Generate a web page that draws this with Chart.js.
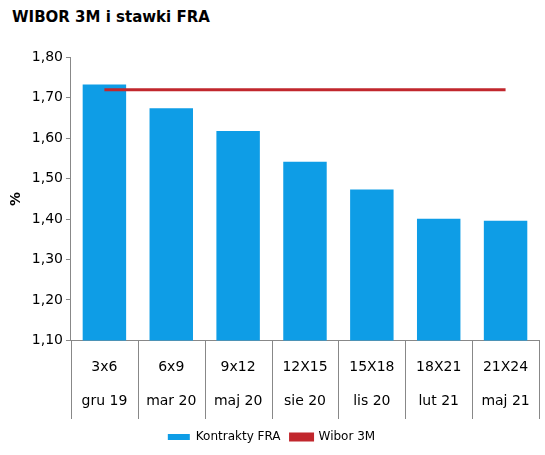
<!DOCTYPE html>
<html lang="pl">
<head>
  <meta charset="UTF-8">
  <title>WIBOR 3M i stawki FRA</title>
  <style>
    body { margin: 0; background: #fff; font-family: 'DejaVu Sans', sans-serif; }
    #wrap { position: relative; width: 545px; height: 455px; }
    h2 { position: absolute; left: 12px; top: 8px; margin: 0; font-size: 15px; font-weight: bold; color: #000; }
    #box { position: absolute; left: 0; top: 46px; width: 545px; height: 409px; }
  </style>
  <script src="https://cdn.jsdelivr.net/npm/chart.js"></script>
</head>
<body>
  <div id="wrap">
    <h2>WIBOR 3M i stawki FRA</h2>
    <div id="box"><canvas id="chart"></canvas></div>
  </div>
  <script>
    const contracts = ['3x6', '6x9', '9x12', '12X15', '15X18', '18X21', '21X24'];
    const months = ['gru 19', 'mar 20', 'maj 20', 'sie 20', 'lis 20', 'lut 21', 'maj 21'];
    const fra = [1.733, 1.674, 1.618, 1.542, 1.473, 1.401, 1.396];
    const wibor = [1.72, 1.72, 1.72, 1.72, 1.72, 1.72, 1.72];

    const fmt = v => v.toFixed(2).replace('.', ',');

    // extend category separators down through the two label rows
    const separators = {
      id: 'separators',
      afterDraw(chart) {
        const x = chart.scales.x, ctx = chart.ctx;
        const n = x.ticks.length, w = (x.right - x.left) / n;
        ctx.save();
        ctx.strokeStyle = '#888';
        ctx.lineWidth = 1;
        ctx.beginPath();
        for (let i = 0; i <= n; i++) {
          const px = Math.round(x.left + i * w) + 0.5;
          ctx.moveTo(px, x.top);
          ctx.lineTo(px, x.bottom - 2);
        }
        ctx.stroke();
        ctx.restore();
      }
    };

    new Chart(document.getElementById('chart'), {
      type: 'bar',
      data: {
        labels: contracts.map((c, i) => [c, months[i]]),
        datasets: [
          { type: 'bar', label: 'Kontrakty FRA', data: fra, backgroundColor: '#0e9de6', barPercentage: 0.65, categoryPercentage: 1, order: 2 },
          { type: 'line', label: 'Wibor 3M', data: wibor, borderColor: '#c1272d', backgroundColor: '#c1272d', borderWidth: 3, pointRadius: 0, order: 1 }
        ]
      },
      plugins: [separators],
      options: {
        responsive: true,
        maintainAspectRatio: false,
        animation: false,
        layout: { padding: { left: 4, right: 6, bottom: 2 } },
        plugins: {
          legend: {
            position: 'bottom',
            labels: {
              font: { family: 'DejaVu Sans', size: 12 }, color: '#000',
              boxWidth: 22, boxHeight: 6,
              sort: (a, b) => a.datasetIndex - b.datasetIndex
            }
          },
          tooltip: { enabled: false }
        },
        scales: {
          x: {
            offset: true,
            grid: { display: false },
            border: { color: '#888' },
            ticks: { color: '#000', font: { family: 'DejaVu Sans', size: 14, lineHeight: 2.45 }, padding: 2, maxRotation: 0 }
          },
          y: {
            min: 1.1, max: 1.8,
            grid: { drawOnChartArea: false, color: '#888', tickLength: 5 },
            border: { color: '#888' },
            ticks: { stepSize: 0.1, color: '#000', font: { family: 'DejaVu Sans', size: 14 }, callback: v => fmt(v) },
            title: { display: true, text: '%', color: '#000', font: { family: 'DejaVu Sans', size: 14, weight: 'bold' } }
          }
        }
      }
    });
  </script>
</body>
</html>
